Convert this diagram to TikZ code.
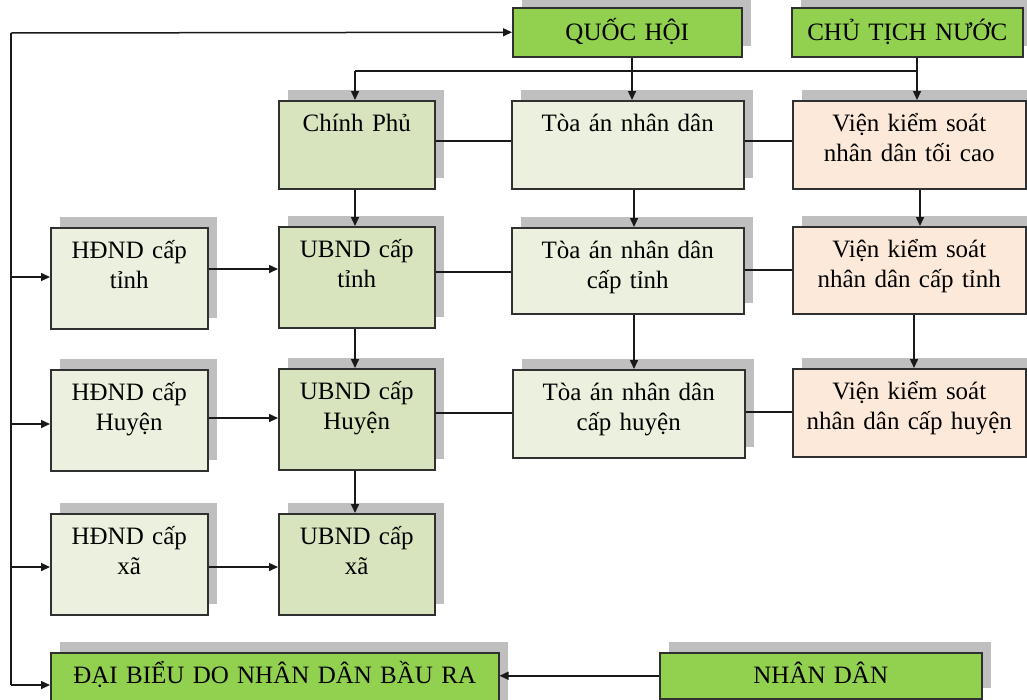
\documentclass[tikz,border=0pt]{standalone}
\usepackage{fontspec}
\setmainfont{Liberation Serif}
\usetikzlibrary{arrows.meta}

\definecolor{hdrgreen}{HTML}{92D050}
\definecolor{govgreen}{HTML}{D7E4BD}
\definecolor{courtgreen}{HTML}{EBF1DE}
\definecolor{procpeach}{HTML}{FDE9D9}
\definecolor{shadowgray}{HTML}{BFBFBF}
\definecolor{edgegray}{HTML}{303030}

\tikzset{
  boxst/.style={draw=edgegray, line width=1.5pt, inner sep=0pt, rectangle},
  hdr/.style={fill=hdrgreen},
  gov/.style={fill=govgreen},
  court/.style={fill=courtgreen},
  proc/.style={fill=procpeach},
  lbl/.style={anchor=north, inner sep=0pt, align=center, text height=17pt,
              font=\fontsize{25}{30}\selectfont},
  ln/.style={draw=black!90, line width=1.5pt},
  arr/.style={ln, -{Triangle[length=9pt,width=8pt]}}
}

% \orgbox[baseline offset]{name}{x}{y}{width}{height}{fill style}{text}
\newcommand\orgbox[8][31]{%
  \fill[shadowgray] (#3+10,#4-10) rectangle ++(#5,#6);
  \node[boxst,#7,anchor=north west,minimum width=#5pt,minimum height=#6pt] (#2) at (#3,#4) {};
  \pgfmathsetmacro\lblshift{17-#1}
  \node[lbl,text width=#5pt,yshift=\lblshift pt] (#2-t) at (#2.north) {#8};
}

\begin{document}
\begin{tikzpicture}[x=1pt,y=-1pt]
\useasboundingbox (0,0) rectangle (1027,699);
\clip (0,0) rectangle (1027,699);

% central bodies
\orgbox[33]{qh}{512}{7}{229}{49}{hdr}{QUỐC HỘI}
\orgbox[33]{ctn}{791}{7}{231}{49}{hdr}{CHỦ TỊCH NƯỚC}
\orgbox{cp}{278}{100}{156}{88}{gov}{Chính Phủ}
\orgbox{ta}{511}{100}{232}{88}{court}{Tòa án nhân dân}
\orgbox{vks}{792}{100}{233}{88}{proc}{Viện kiểm soát\\nhân dân tối cao}

% province level
\orgbox{hdt}{50}{227}{157}{101}{court}{HĐND cấp\\tỉnh}
\orgbox{ubt}{278}{226}{156}{101}{gov}{UBND cấp\\tỉnh}
\orgbox{tat}{511}{227}{232}{86}{court}{Tòa án nhân dân\\cấp tỉnh}
\orgbox{vkt}{792}{226}{233}{87}{proc}{Viện kiểm soát\\nhân dân cấp tỉnh}

% district level
\orgbox{hdh}{50}{369}{157}{101}{court}{HĐND cấp\\Huyện}
\orgbox{ubh}{278}{368}{156}{101}{gov}{UBND cấp\\Huyện}
\orgbox{tah}{512}{369}{232}{88}{court}{Tòa án nhân dân\\cấp huyện}
\orgbox{vkh}{792}{368}{233}{88}{proc}{Viện kiểm soát\\nhân dân cấp huyện}

% commune level
\orgbox{hdx}{50}{513}{157}{101}{court}{HĐND cấp\\xã}
\orgbox{ubx}{278}{513}{156}{101}{gov}{UBND cấp\\xã}

% elected representatives and the people
\orgbox{db}{50}{652}{448}{66}{hdr}{ĐẠI BIỂU DO NHÂN DÂN BẦU RA}
\orgbox{nd}{659}{652}{322}{46}{hdr}{NHÂN DÂN}

% left bus
\coordinate (busT) at (11,33);
\coordinate (busB) at (11,685);
\draw[ln] (busT) -- (busB);
\draw[arr] (busT) -- (qh.west);
\draw[arr] (busT |- 0,277) -- (hdt.west |- 0,277);
\draw[arr] (busT |- 0,424) -- (hdh.west |- 0,424);
\draw[arr] (busT |- 0,567) -- (hdx.west |- 0,567);
\draw[arr] (busB) -- (db.west |- busB);
\draw[arr] (nd.west) -- (db.east |- nd.west);

% top bus
\coordinate (jl) at (355,71);
\coordinate (jq) at (632,71);
\coordinate (jc) at (917,71);
\draw[ln] (jl) -- (jc);
\draw[arr] (jl) -- (jl |- cp.north);
\draw[arr] (jq |- qh.south) -- (jq |- ta.north);
\draw[arr] (jc |- ctn.south) -- (jc |- vks.north);

% vertical chains
\draw[arr] (cp.south -| jl) -- (ubt.north -| jl);
\draw[arr] (ubt.south -| jl) -- (ubh.north -| jl);
\draw[arr] (ubh.south -| jl) -- (ubx.north -| jl);
\coordinate (tx) at (634,0);
\draw[arr] (ta.south -| tx) -- (tat.north -| tx);
\draw[arr] (tat.south -| tx) -- (tah.north -| tx);
\coordinate (vx1) at (920,0);
\coordinate (vx2) at (914,0);
\draw[arr] (vks.south -| vx1) -- (vkt.north -| vx1);
\draw[arr] (vkt.south -| vx2) -- (vkh.north -| vx2);

% horizontal links
\draw[ln] (cp.east |- 0,141) -- (ta.west |- 0,141);
\draw[ln] (ta.east |- 0,141) -- (vks.west |- 0,141);
\draw[arr] (hdt.east |- 0,269) -- (ubt.west |- 0,269);
\draw[ln] (ubt.east |- 0,272) -- (tat.west |- 0,272);
\draw[ln] (tat.east |- 0,270) -- (vkt.west |- 0,270);
\draw[arr] (hdh.east |- 0,418) -- (ubh.west |- 0,418);
\draw[ln] (ubh.east |- 0,413) -- (tah.west |- 0,413);
\draw[ln] (tah.east |- 0,412) -- (vkh.west |- 0,412);
\draw[arr] (hdx.east |- 0,567) -- (ubx.west |- 0,567);
\end{tikzpicture}
\end{document}
